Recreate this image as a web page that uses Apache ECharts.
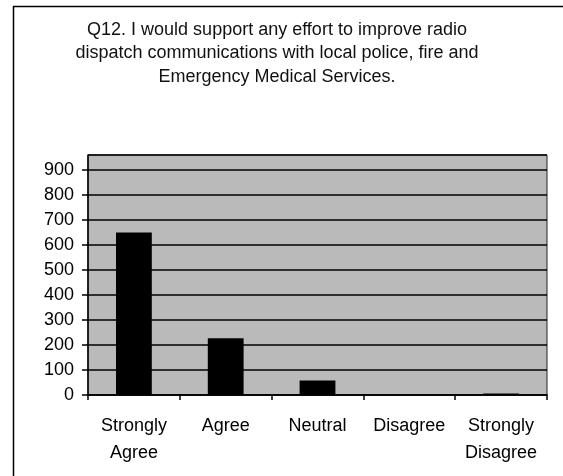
<!DOCTYPE html>
<html>
<head>
<meta charset="utf-8">
<script src="https://cdn.jsdelivr.net/npm/echarts@6/dist/echarts.min.js"></script>
<style>
  html, body { margin: 0; padding: 0; background: #ffffff; }
  #chart { width: 563px; height: 476px; }
</style>
</head>
<body>
<div id="chart"></div>
<script>
// survey answers
var categories = ['Strongly\nAgree', 'Agree', 'Neutral', 'Disagree', 'Strongly\nDisagree'];
var counts = [650, 227, 58, 0, 6];
var titleText = 'Q12. I would support any effort to improve radio\ndispatch communications with local police, fire and\nEmergency Medical Services.';

var chart = echarts.init(document.getElementById('chart'));
chart.setOption({
  backgroundColor: '#ffffff',
  animation: false,
  title: {
    text: titleText,
    left: 272,
    top: 13,
    textAlign: 'center',
    textStyle: {
      fontFamily: 'Liberation Sans',
      fontSize: 18,
      fontWeight: 'normal',
      color: '#111111',
      lineHeight: 23.5,
      align: 'center'
    }
  },
  graphic: [{
    // outer frame of the chart, cut off at right and bottom
    type: 'rect',
    shape: { x: 13.5, y: 6.5, width: 600, height: 500 },
    style: { fill: 'none', stroke: '#000000', lineWidth: 1.5 },
    z: -1
  }],
  grid: {
    left: 88,
    right: 16,
    top: 155,
    bottom: 81,
    show: true,
    backgroundColor: '#bababa',
    borderColor: '#222222',
    borderWidth: 1
  },
  xAxis: {
    type: 'category',
    data: categories,
    axisLine: { lineStyle: { color: '#000000', width: 1.5 } },
    axisTick: { show: true, length: 5, interval: 0, lineStyle: { color: '#000000', width: 1.5 } },
    axisLabel: {
      interval: 0,
      fontFamily: 'Liberation Sans',
      fontSize: 18,
      color: '#000000',
      lineHeight: 27,
      margin: 18
    }
  },
  yAxis: {
    type: 'value',
    min: 0,
    max: 960,
    interval: 100,
    axisLine: { show: true, lineStyle: { color: '#000000', width: 1.5 } },
    axisTick: { show: true, length: 6, lineStyle: { color: '#000000', width: 1.5 } },
    axisLabel: {
      fontFamily: 'Liberation Sans',
      fontSize: 18,
      color: '#000000',
      margin: 14,
      showMaxLabel: false
    },
    splitLine: { show: true, lineStyle: { color: '#000000', width: 1.5 } }
  },
  series: [{
    type: 'bar',
    data: counts,
    barWidth: '39%',
    itemStyle: { color: '#000000' }
  }]
});
</script>
</body>
</html>
